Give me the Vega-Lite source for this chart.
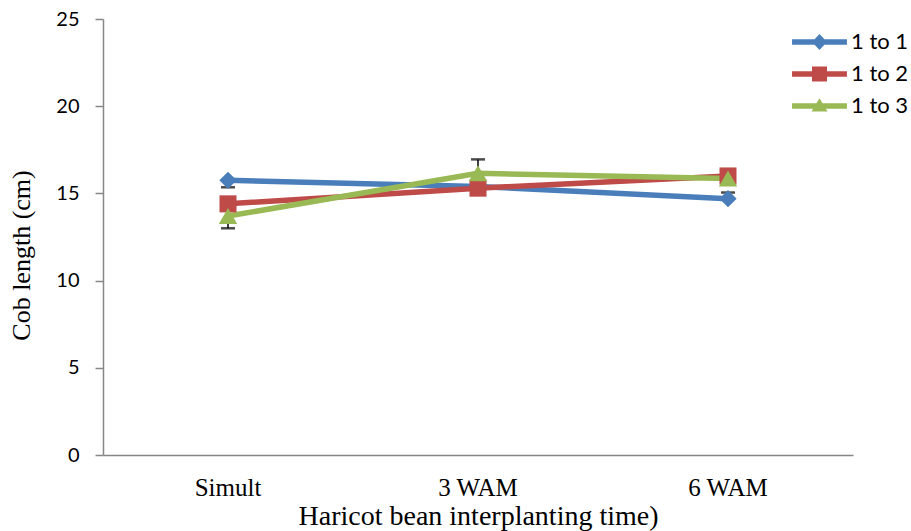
{
  "$schema": "https://vega.github.io/schema/vega-lite/v6.json",
  "width": 750,
  "height": 436,
  "autosize": "none",
  "padding": {"left": 103, "top": 19, "right": 58, "bottom": 76},
  "background": "white",
  "config": {"view": {"stroke": null}},
  "datasets": {
    "means": [
      {"ratio": "1 to 1", "time": "Simult", "length": 15.75},
      {"ratio": "1 to 1", "time": "3 WAM", "length": 15.4},
      {"ratio": "1 to 1", "time": "6 WAM", "length": 14.7},
      {"ratio": "1 to 2", "time": "Simult", "length": 14.4},
      {"ratio": "1 to 2", "time": "3 WAM", "length": 15.3},
      {"ratio": "1 to 2", "time": "6 WAM", "length": 16.0},
      {"ratio": "1 to 3", "time": "Simult", "length": 13.7},
      {"ratio": "1 to 3", "time": "3 WAM", "length": 16.15},
      {"ratio": "1 to 3", "time": "6 WAM", "length": 15.85}
    ],
    "errors": [
      {"ratio": "1 to 1", "time": "Simult", "length": 15.75, "end": 15.35},
      {"ratio": "1 to 1", "time": "6 WAM", "length": 14.7, "end": 15.05},
      {"ratio": "1 to 3", "time": "Simult", "length": 13.7, "end": 13.0},
      {"ratio": "1 to 3", "time": "3 WAM", "length": 16.15, "end": 16.95}
    ]
  },
  "encoding": {
    "x": {
      "field": "time",
      "type": "nominal",
      "sort": ["Simult", "3 WAM", "6 WAM"],
      "scale": {"paddingInner": 0, "paddingOuter": 0},
      "axis": {
        "title": "Haricot bean interplanting time)",
        "labelAngle": 0,
        "ticks": false,
        "labelFont": "Liberation Serif",
        "labelFontSize": 25,
        "labelColor": "#000000",
        "labelPadding": 20,
        "domainColor": "#868686",
        "domainWidth": 1.5,
        "titleFont": "Liberation Serif",
        "titleFontSize": 28,
        "titleFontWeight": "normal",
        "titleColor": "#000000",
        "titlePadding": 2
      }
    }
  },
  "layer": [
    {
      "data": {"name": "errors"},
      "mark": {"type": "rule", "color": "#000000", "strokeWidth": 1.5},
      "encoding": {
        "y": {
          "field": "length",
          "type": "quantitative",
          "scale": {"domain": [0, 25], "nice": false},
          "axis": {
            "title": "Cob length (cm)",
            "values": [0, 5, 10, 15, 20, 25],
            "grid": false,
            "tickSize": 8,
            "tickColor": "#868686",
            "tickWidth": 1.5,
            "domainColor": "#868686",
            "domainWidth": 1.5,
            "labelFont": "Lato",
            "labelFontSize": 20,
            "labelColor": "#000000",
            "labelPadding": 16,
            "titleFont": "Liberation Serif",
            "titleFontSize": 26,
            "titleFontWeight": "normal",
            "titleColor": "#000000",
            "titleX": -69,
            "titleY": 236
          }
        },
        "y2": {"field": "end"}
      }
    },
    {
      "data": {"name": "errors"},
      "mark": {"type": "tick", "color": "#000000", "orient": "horizontal", "size": 14, "thickness": 2.5},
      "encoding": {
        "y": {"field": "end", "type": "quantitative"}
      }
    },
    {
      "data": {"name": "means"},
      "mark": {"type": "line", "strokeWidth": 5.5},
      "encoding": {
        "y": {"field": "length", "type": "quantitative"},
        "color": {
          "field": "ratio",
          "type": "nominal",
          "scale": {"domain": ["1 to 1", "1 to 2", "1 to 3"], "range": ["#4A7EBB", "#BE4B48", "#98B954"]},
          "legend": {
            "title": null,
            "orient": "none",
            "legendX": 701.5,
            "legendY": 8,
            "symbolSize": 900,
            "labelFont": "Lato",
            "labelFontSize": 22,
            "labelColor": "#000000",
            "labelOffset": 16.5,
            "rowPadding": 6,
            "encode": {
              "symbols": {
                "update": {
                  "shape": {"signal": "datum.value === '1 to 1' ? 'M-1.83,-0.18L1.83,-0.18L1.83,0.18L-1.83,0.18Z M0,-0.53L0.5,0L0,0.53L-0.5,0Z' : datum.value === '1 to 2' ? 'M-1.83,-0.18L1.83,-0.18L1.83,0.18L-1.83,0.18Z M-0.5,-0.5L0.5,-0.5L0.5,0.5L-0.5,0.5Z' : 'M-1.83,-0.18L1.83,-0.18L1.83,0.18L-1.83,0.18Z M0,-0.51L0.53,0.37L-0.53,0.37Z'"},
                  "size": {"value": 900},
                  "fill": {"scale": "color", "field": "value"},
                  "stroke": {"value": null},
                  "strokeWidth": {"value": 0},
                  "opacity": {"value": 1}
                }
              }
            }
          }
        }
      }
    },
    {
      "data": {"name": "means"},
      "transform": [{"filter": "datum.ratio === '1 to 1'"}],
      "mark": {"type": "point", "filled": true, "opacity": 1, "shape": "diamond", "size": 300},
      "encoding": {
        "y": {"field": "length", "type": "quantitative"},
        "color": {"field": "ratio", "type": "nominal"}
      }
    },
    {
      "data": {"name": "means"},
      "transform": [{"filter": "datum.ratio === '1 to 2'"}],
      "mark": {"type": "point", "filled": true, "opacity": 1, "shape": "square", "size": 290},
      "encoding": {
        "y": {"field": "length", "type": "quantitative"},
        "color": {"field": "ratio", "type": "nominal"}
      }
    },
    {
      "data": {"name": "means"},
      "transform": [{"filter": "datum.ratio === '1 to 3'"}],
      "mark": {"type": "point", "filled": true, "opacity": 1, "shape": "triangle-up", "size": 340},
      "encoding": {
        "y": {"field": "length", "type": "quantitative"},
        "color": {"field": "ratio", "type": "nominal"}
      }
    }
  ]
}
